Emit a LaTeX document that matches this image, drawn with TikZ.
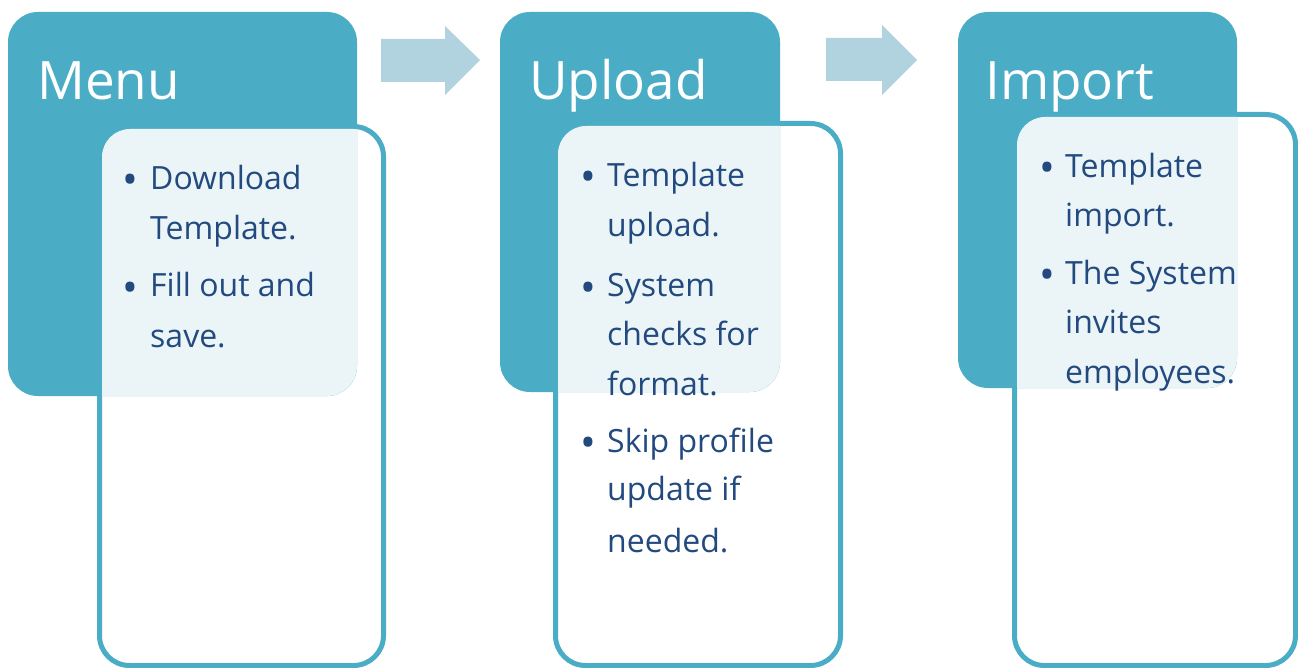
\documentclass[tikz,border=0pt]{standalone}
\usepackage{fontspec}
\setmainfont{Open Sans}
\definecolor{hdr}{HTML}{4BACC6}
\definecolor{lite}{HTML}{EBF5F8}
\definecolor{arr}{HTML}{B1D3DF}
\definecolor{txt}{HTML}{224A7F}
\tikzset{
  boxline/.style={draw=hdr, line width=5pt, fill=white, rounded corners=30pt},
  hdrbox/.style={fill=hdr, rounded corners=30pt},
  litebox/.style={fill=lite, rounded corners=28pt},
  title/.style={anchor=base west, inner sep=0pt, text=white, font=\fontsize{53}{60}\selectfont},
  line/.style={anchor=base west, inner sep=0pt, text=txt, font=\fontsize{32}{40}\selectfont},
  bul/.style={anchor=base, inner sep=0pt, yshift=-5pt, text=txt, font=\fontsize{42}{48}\selectfont},
  arrowfill/.style={fill=arr}
}
\begin{document}
\begin{tikzpicture}[x=1pt, y=-1pt]
\useasboundingbox (0,0) rectangle (1298,668);
% ---------- group 1
\draw[boxline] (99.5,126.5) rectangle (383.5,665.5);
\fill[hdrbox] (8,12) rectangle (357,396);
\begin{scope}
  \clip[rounded corners=30pt] (8,12) rectangle (357,396);
  \fill[litebox] (102,129) rectangle (381,663);
\end{scope}
\node[title] (t1) at (37,100) {Menu};
\node[bul] (b11) at (130,190) {•};
\node[line] (l11) at (150,190) {Download};
\node[line] (l12) at (150,240) {Template.};
\node[bul] (b12) at (130,297) {•};
\node[line] (l13) at (150,297) {Fill out and};
\node[line] (l14) at (150,347) {save.};
% ---------- group 2
\draw[boxline] (555.5,123.5) rectangle (840.5,665.5);
\fill[hdrbox] (500,12) rectangle (780,392);
\begin{scope}
  \clip[rounded corners=30pt] (500,12) rectangle (780,392);
  \fill[litebox] (558,126) rectangle (838,663);
\end{scope}
\node[title] (t2) at (529,100) {Upload};
\node[bul] (b21) at (588,187) {•};
\node[line] (l21) at (607,187) {Template};
\node[line] (l22) at (607,237) {upload.};
\node[bul] (b22) at (588,297) {•};
\node[line] (l23) at (607,297) {System};
\node[line] (l24) at (607,345) {checks for};
\node[line] (l25) at (607,395) {format.};
\node[bul] (b23) at (588,452) {•};
\node[line] (l26) at (607,452) {Skip profile};
\node[line] (l27) at (607,500) {update if};
\node[line] (l28) at (607,552) {needed.};
% ---------- group 3
\draw[boxline] (1014.5,114.5) rectangle (1295.5,665.5);
\fill[hdrbox] (958,12) rectangle (1237,388);
\begin{scope}
  \clip[rounded corners=30pt] (958,12) rectangle (1237,388);
  \fill[litebox] (1017,117) rectangle (1293,663);
\end{scope}
\node[title] (t3) at (985,100) {Import};
\node[bul] (b31) at (1047,178) {•};
\node[line] (l31) at (1065,178) {Template};
\node[line] (l32) at (1065,227) {import.};
\node[bul] (b32) at (1047,285) {•};
\node[line] (l33) at (1065,285) {The System};
\node[line] (l34) at (1065,333) {invites};
\node[line] (l35) at (1065,383) {employees.};
% ---------- arrows
\fill[arrowfill] (381,39) -- (445,39) -- (445,26) -- (480,60) -- (445,95) -- (445,82) -- (381,82) -- cycle;
\fill[arrowfill] (826,38) -- (882,38) -- (882,25) -- (917,60) -- (882,95) -- (882,81) -- (826,81) -- cycle;
\end{tikzpicture}
\end{document}
